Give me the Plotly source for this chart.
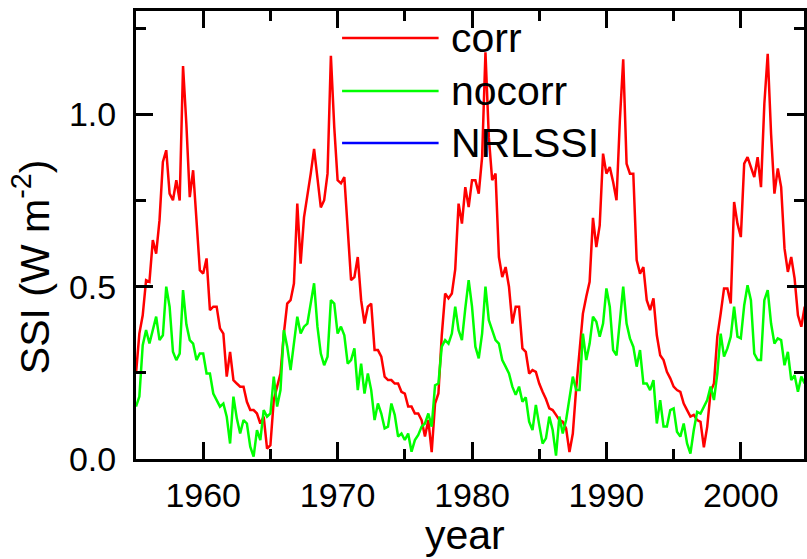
import plotly.graph_objects as go

# Quarterly samples starting at 1955.0
start_year = 1955.0
step = 0.25

corr = [
    0.248, 0.364, 0.417, 0.519, 0.514, 0.635, 0.596, 0.693, 0.862, 0.896,
    0.770, 0.751, 0.809, 0.750, 1.140, 0.970, 0.760, 0.838, 0.693, 0.548,
    0.538, 0.582, 0.432, 0.442, 0.442, 0.379, 0.364, 0.239, 0.311, 0.229,
    0.219, 0.210, 0.210, 0.166, 0.142, 0.142, 0.132, 0.103, 0.123, 0.030,
    0.040, 0.171, 0.210, 0.248, 0.364, 0.451, 0.461, 0.509, 0.741, 0.567,
    0.701, 0.760, 0.828, 0.900, 0.814, 0.730, 0.751, 0.828, 1.170, 0.963,
    0.809, 0.800, 0.818, 0.654, 0.519, 0.528, 0.586, 0.461, 0.393, 0.442,
    0.451, 0.316, 0.316, 0.297, 0.239, 0.229, 0.229, 0.219, 0.219, 0.195,
    0.190, 0.152, 0.152, 0.132, 0.132, 0.113, 0.065, 0.113, 0.020, 0.161,
    0.190, 0.359, 0.480, 0.466, 0.480, 0.550, 0.741, 0.683, 0.789, 0.731,
    0.809, 0.809, 0.770, 0.876, 1.180, 0.934, 0.809, 0.828, 0.586, 0.528,
    0.557, 0.500, 0.393, 0.442, 0.442, 0.321, 0.311, 0.248, 0.258, 0.253,
    0.219, 0.195, 0.174, 0.147, 0.142, 0.128, 0.113, 0.108, 0.089, 0.020,
    0.074, 0.205, 0.316, 0.422, 0.471, 0.514, 0.700, 0.615, 0.678, 0.886,
    0.828, 0.847, 0.804, 0.751, 0.983, 1.160, 0.857, 0.828, 0.828, 0.577,
    0.538, 0.557, 0.461, 0.432, 0.466, 0.359, 0.301, 0.287, 0.253, 0.234,
    0.210, 0.200, 0.195, 0.161, 0.142, 0.123, 0.128, 0.113, 0.108, 0.034,
    0.094, 0.195, 0.219, 0.355, 0.422, 0.495, 0.495, 0.451, 0.746, 0.683,
    0.644, 0.857, 0.876, 0.847, 0.818, 0.876, 0.789, 1.031, 1.176, 0.944,
    0.770, 0.843, 0.789, 0.611, 0.543, 0.586, 0.524, 0.417, 0.384, 0.442,
]

nocorr = [
    0.152, 0.181, 0.330, 0.374, 0.335, 0.374, 0.413, 0.345, 0.359, 0.500,
    0.442, 0.311, 0.287, 0.306, 0.490, 0.390, 0.345, 0.335, 0.287, 0.306,
    0.306, 0.248, 0.248, 0.190, 0.171, 0.152, 0.161, 0.123, 0.045, 0.181,
    0.118, 0.074, 0.113, 0.103, 0.036, 0.007, 0.084, 0.055, 0.142, 0.123,
    0.132, 0.239, 0.152, 0.200, 0.374, 0.326, 0.258, 0.335, 0.413, 0.364,
    0.384, 0.393, 0.451, 0.510, 0.384, 0.306, 0.272, 0.297, 0.461, 0.451,
    0.364, 0.384, 0.359, 0.277, 0.287, 0.321, 0.200, 0.277, 0.190, 0.248,
    0.200, 0.113, 0.161, 0.132, 0.089, 0.094, 0.161, 0.128, 0.065, 0.074,
    0.055, 0.074, 0.021, 0.055, 0.070, 0.094, 0.103, 0.132, 0.094, 0.214,
    0.219, 0.326, 0.345, 0.335, 0.364, 0.442, 0.374, 0.345, 0.437, 0.519,
    0.442, 0.326, 0.292, 0.364, 0.500, 0.403, 0.374, 0.345, 0.335, 0.287,
    0.268, 0.248, 0.210, 0.186, 0.210, 0.166, 0.179, 0.108, 0.084, 0.157,
    0.099, 0.045, 0.060, 0.123, 0.084, 0.010, 0.123, 0.074, 0.113, 0.171,
    0.239, 0.200, 0.200, 0.364, 0.287, 0.335, 0.413, 0.398, 0.355, 0.393,
    0.495, 0.442, 0.316, 0.301, 0.413, 0.500, 0.393, 0.350, 0.326, 0.268,
    0.316, 0.219, 0.219, 0.200, 0.229, 0.103, 0.171, 0.094, 0.094, 0.142,
    0.147, 0.079, 0.065, 0.103, 0.045, 0.016, 0.084, 0.137, 0.132, 0.152,
    0.171, 0.210, 0.171, 0.248, 0.364, 0.297, 0.321, 0.355, 0.442, 0.355,
    0.350, 0.446, 0.504, 0.461, 0.306, 0.287, 0.287, 0.461, 0.490, 0.393,
    0.335, 0.350, 0.345, 0.272, 0.311, 0.229, 0.243, 0.195, 0.239, 0.219,
]

nrlssi = []  # series listed in legend, not visible in plot

series_names = ["corr", "nocorr", "NRLSSI"]
series_colors = ["#ff0000", "#00ff00", "#0000ff"]

years = [start_year + step * i for i in range(len(corr))]

FONT = "Arial, 'Liberation Sans', Helvetica, sans-serif"

fig = go.Figure()
fig.add_trace(go.Scatter(x=years, y=corr, mode="lines", name=series_names[0],
                         line=dict(color=series_colors[0], width=2.5), showlegend=False))
fig.add_trace(go.Scatter(x=years, y=nocorr, mode="lines", name=series_names[1],
                         line=dict(color=series_colors[1], width=2.5), showlegend=False))
fig.add_trace(go.Scatter(x=[], y=nrlssi, mode="lines", name=series_names[2],
                         line=dict(color=series_colors[2], width=2.5), showlegend=False))

axis_common = dict(
    showline=True, linewidth=3, linecolor="black", mirror="ticks",
    ticks="inside", ticklen=17, tickwidth=3, tickcolor="black",
    showgrid=False, zeroline=False,
    tickfont=dict(family=FONT, size=34, color="black"),
)

fig.update_layout(
    width=807, height=559,
    margin=dict(l=136, r=0, t=11, b=100),
    paper_bgcolor="white", plot_bgcolor="white",
    font=dict(family=FONT, color="black"),
    xaxis=dict(range=[1955, 2004.7], tick0=1960, dtick=10,
               minor=dict(tick0=1955, dtick=5, ticks="inside", ticklen=10,
                          tickwidth=3, tickcolor="black"),
               ticklabelstandoff=4, **axis_common),
    yaxis=dict(range=[0, 1.3], tick0=0, dtick=0.5, tickformat=".1f",
               minor=dict(tick0=0, dtick=0.25, ticks="inside", ticklen=10,
                          tickwidth=3, tickcolor="black"),
               ticklabelstandoff=10, **axis_common),
    showlegend=False,
)

# Axis titles
fig.add_annotation(text="SSI (W m<sup>-2</sup>)", textangle=-90,
                   xref="paper", yref="paper", x=-0.156, y=0.43,
                   xanchor="center", yanchor="middle", showarrow=False,
                   font=dict(family=FONT, size=41, color="black"))
fig.add_annotation(text="year", xref="paper", yref="paper", x=0.493, y=-0.114,
                   xanchor="center", yanchor="top", showarrow=False,
                   font=dict(family=FONT, size=41, color="black"))

# Legend drawn manually (long sample lines)
legend_rows = [0.9397, 0.8214, 0.7054]
for name, color, yy in zip(series_names, series_colors, legend_rows):
    fig.add_shape(type="line", xref="paper", yref="paper",
                  x0=0.3085, x1=0.453, y0=yy, y1=yy,
                  line=dict(color=color, width=2.5))
    fig.add_annotation(text=name, xref="paper", yref="paper", x=0.468, y=yy,
                       xanchor="left", yanchor="middle", showarrow=False,
                       font=dict(family=FONT, size=41, color="black"))

fig.write_html("out.html")
